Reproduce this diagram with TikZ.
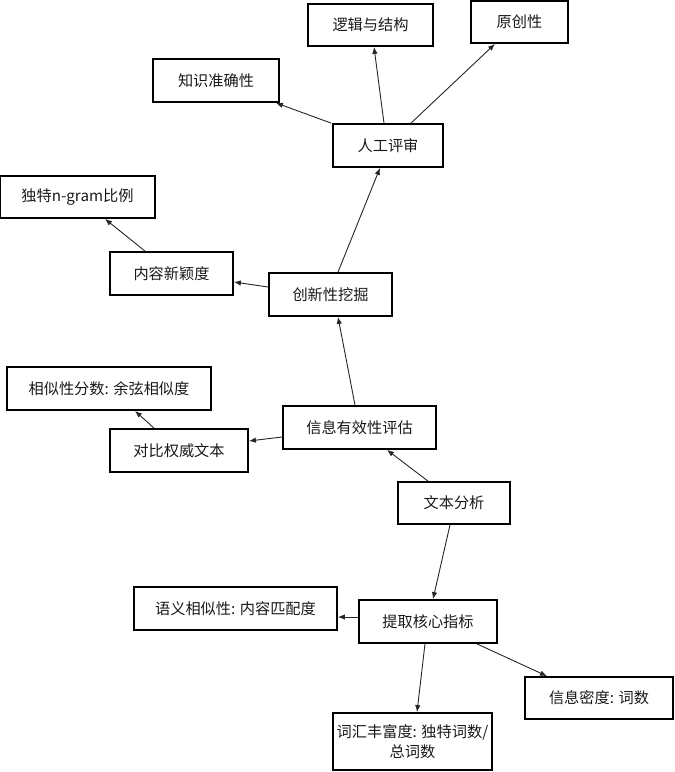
\documentclass[tikz,border=0pt]{standalone}
\usepackage{fontspec}
\setmainfont{Noto Sans CJK SC}
\usetikzlibrary{arrows.meta,calc}
\tikzset{
  box/.style={draw=black, line width=1.8pt, inner sep=0pt, font=\fontsize{15.2}{20}\selectfont, text=black!90, align=center},
  arr/.style={draw=black!85, line width=0.9pt, -{Latex[length=7pt,width=5.5pt]}}
}
\begin{document}
\begin{tikzpicture}[x=1pt,y=-1pt]
\useasboundingbox (0,0) rectangle (675,772);
\node[box, minimum width=125, minimum height=42] (ljjg) at (370.5,25) {逻辑与结构};
\node[box, minimum width=97, minimum height=42] (ycx) at (519.5,22) {原创性};
\node[box, minimum width=126, minimum height=43] (zszq) at (216,80.5) {知识准确性};
\node[box, minimum width=110, minimum height=43] (rgps) at (388,145.5) {人工评审};
\node[box, minimum width=155, minimum height=42] (dtng) at (77.5,197) {独特n-gram比例};
\node[box, minimum width=123, minimum height=43] (nrxy) at (171.5,273.5) {内容新颖度};
\node[box, minimum width=123, minimum height=43] (cxx) at (330.5,294.5) {创新性挖掘};
\node[box, minimum width=204, minimum height=43] (xsx) at (109,388.5) {相似性分数: 余弦相似度};
\node[box, minimum width=138, minimum height=43] (dbqw) at (179,450.5) {对比权威文本};
\node[box, minimum width=153, minimum height=43] (xxyx) at (359.5,427.5) {信息有效性评估};
\node[box, minimum width=112, minimum height=42] (wbfx) at (454,503) {文本分析};
\node[box, minimum width=203, minimum height=43] (yyxs) at (235.5,608.5) {语义相似性: 内容匹配度};
\node[box, minimum width=138, minimum height=43] (tqhx) at (428,621.5) {提取核心指标};
\node[box, minimum width=148, minimum height=42] (xxmd) at (599,698) {信息密度: 词数};
\node[box, minimum width=159, minimum height=57] (chff) at (412.5,741.5) {词汇丰富度: 独特词数/\\总词数};

\draw[arr] ($(rgps.north)+(-4,0)$) -- ($(ljjg.south)+(3.5,0)$);
\draw[arr] ($(rgps.north)+(23,0)$) -- ($(ycx.south)+(-24.5,0)$);
\draw[arr] ($(rgps.north west)+(-1,0)$) -- ($(zszq.south east)+(-4,0)$);
\draw[arr] ($(cxx.north)+(7.5,0)$) -- ($(rgps.south)+(-8,0)$);
\draw[arr] ($(cxx.west)+(0,-7.5)$) -- ($(nrxy.east)+(0,8.5)$);
\draw[arr] ($(nrxy.north)+(-26.5,0)$) -- ($(dtng.south)+(27.5,0)$);
\draw[arr] ($(xxyx.north)+(-4.5,0)$) -- ($(cxx.south)+(7.5,0)$);
\draw[arr] ($(xxyx.west)+(0,9.5)$) -- ($(dbqw.east)+(0,-9.5)$);
\draw[arr] ($(dbqw.north)+(-25,0)$) -- ($(xsx.south)+(26,0)$);
\draw[arr] ($(wbfx.north)+(-26,0)$) -- ($(xxyx.south)+(27.5,0)$);
\draw[arr] ($(wbfx.south)+(-4,0)$) -- ($(tqhx.north)+(5,0)$);
\draw[arr] ($(tqhx.west)+(0,-4.5)$) -- ($(yyxs.east)+(0,8.5)$);
\draw[arr] ($(tqhx.south)+(-3,0)$) -- ($(chff.north)+(4.5,0)$);
\draw[arr] ($(tqhx.south)+(49,0)$) -- ($(xxmd.north)+(-52,0)$);
\end{tikzpicture}
\end{document}
